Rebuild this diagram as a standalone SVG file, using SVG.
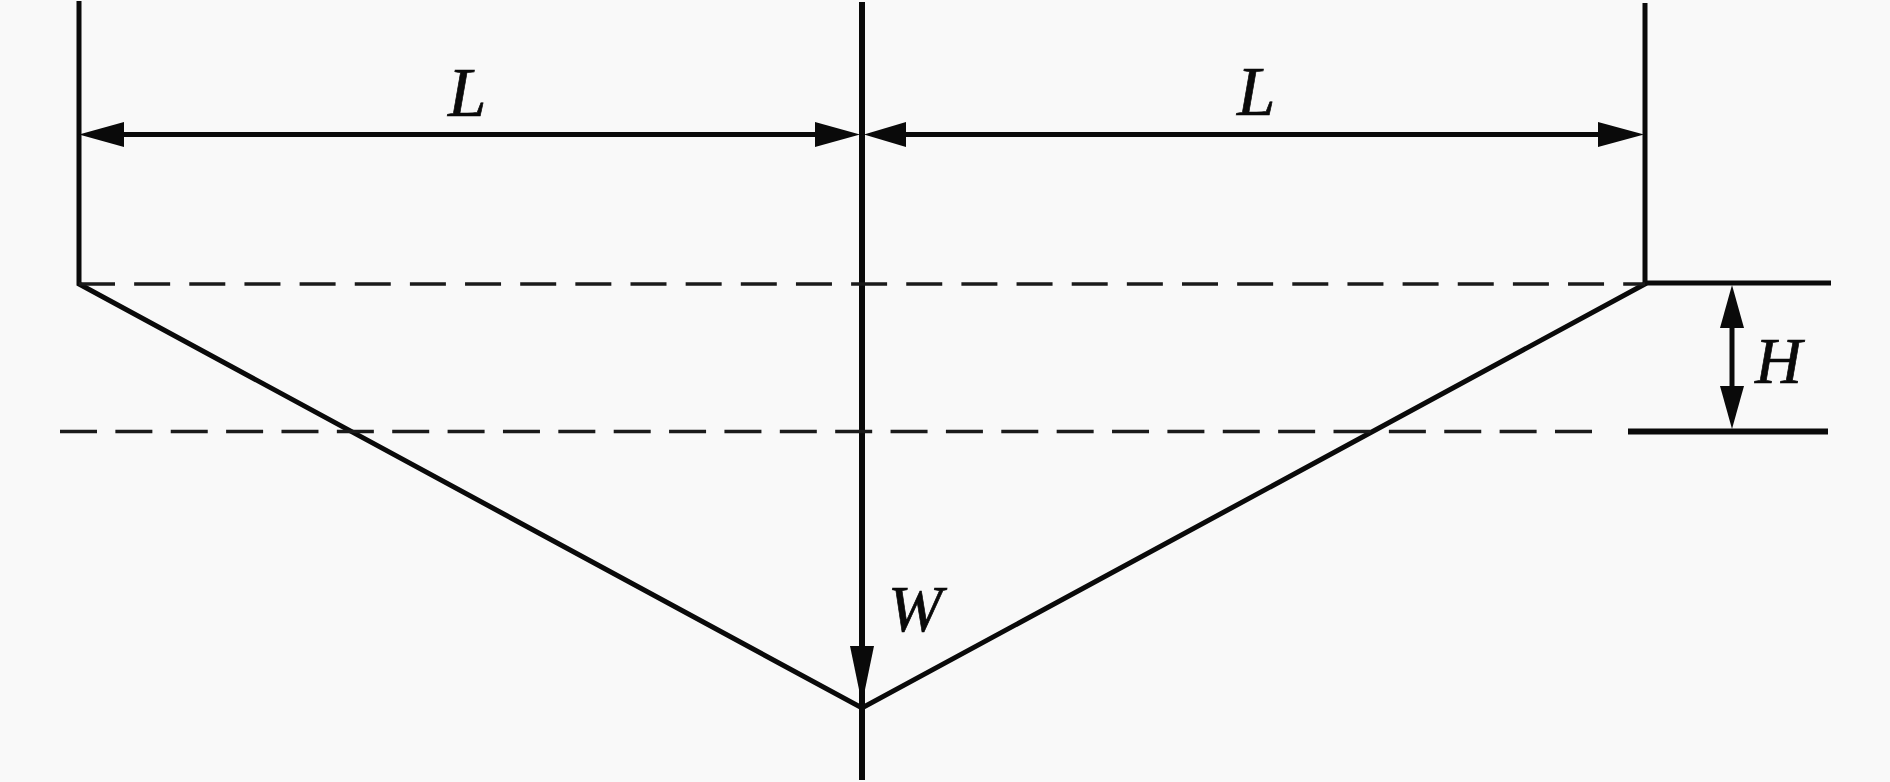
<svg xmlns="http://www.w3.org/2000/svg" width="1890" height="782" viewBox="0 0 1890 782">
<style>
.s{stroke:#0a0a0a;fill:none}
.d{stroke:#1a1a1a;fill:none;stroke-width:3.500}
.h{fill:#0a0a0a;stroke:none}
text{font-family:"Liberation Serif","Times New Roman",serif;font-style:italic;fill:#0a0a0a;stroke:#0a0a0a;stroke-width:.7}
</style>
<rect width="1890" height="782" fill="#f9f9f9"/>
<g id="connectors">
<path class="s" stroke-width="5" d="M79 1V284L862 708L1645 284V3"/>
<path class="s" stroke-width="6" d="M862 2V780"/>
<path class="s" stroke-width="5" d="M100 134.500H840M885 134.500H1620"/>
<path class="s" stroke-width="5" d="M1645 283H1831"/>
<path class="s" stroke-width="6" d="M1628 431.500H1828"/>
<path class="s" stroke-width="5" d="M1732 310V405"/>
<path class="d" stroke-dasharray="36 19.150" d="M79 284H1645"/>
<path class="d" stroke-dasharray="37 18.370" d="M60 431.500H1592"/>
<polygon class="h" points="79,134.500 124,122 124,147"/>
<polygon class="h" points="860,134.500 815,122 815,147"/>
<polygon class="h" points="864,134.500 906,122 906,147"/>
<polygon class="h" points="1644,134.500 1598,122 1598,147"/>
<polygon class="h" points="862,704 850,646 874,646"/>
<polygon class="h" points="1732,285 1720,328 1744,328"/>
<polygon class="h" points="1732,429 1720,386 1744,386"/>
</g>
<g id="label-l-left"><text x="448" y="116" font-size="69">L</text></g>
<g id="label-l-right"><text x="1237" y="115" font-size="69">L</text></g>
<g id="label-h"><text x="1755" y="383" font-size="65">H</text></g>
<g id="label-w"><text x="888" y="631" font-size="65">W</text></g>
</svg>
